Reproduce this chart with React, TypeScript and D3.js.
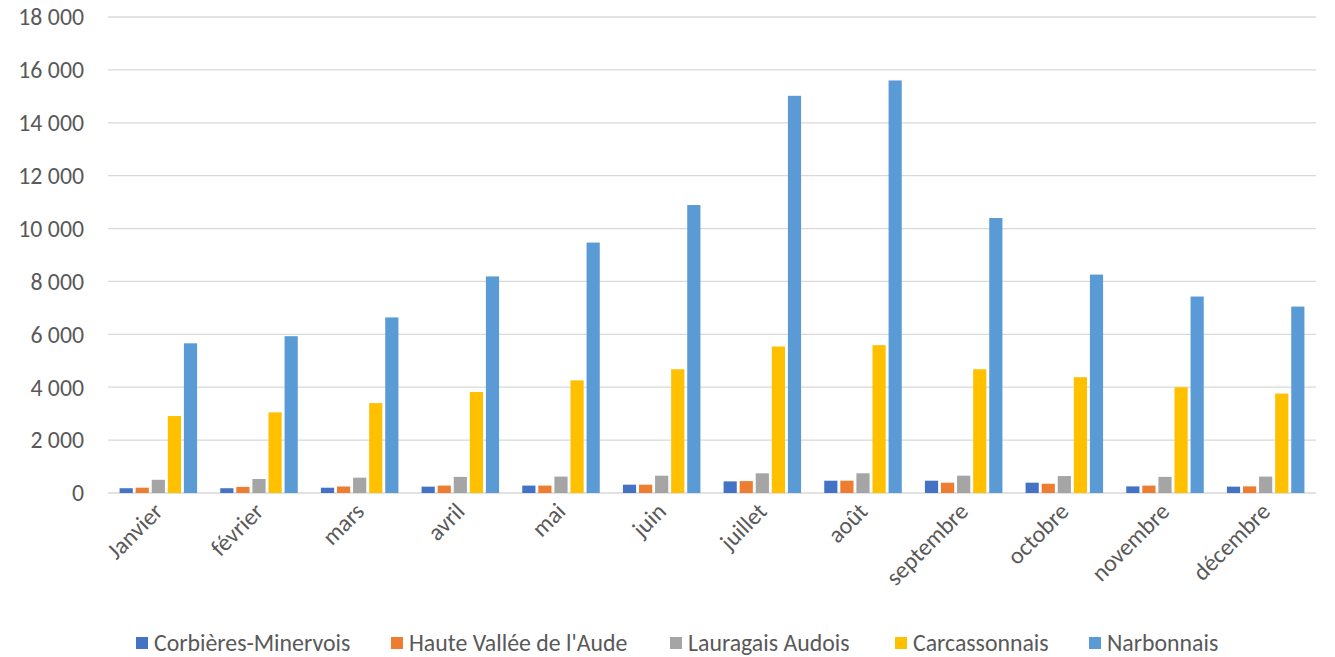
import React from "react";
import * as d3 from "d3";

const months = ["Janvier", "février", "mars", "avril", "mai", "juin", "juillet", "août", "septembre", "octobre", "novembre", "décembre"];
const seriesNames = ["Corbières-Minervois", "Haute Vallée de l'Aude", "Lauragais Audois", "Carcassonnais", "Narbonnais"];
const colors = ["#4472C4", "#ED7D31", "#A5A5A5", "#FFC000", "#5B9BD5"];

const corbieres = [180, 180, 200, 240, 280, 315, 440, 465, 465, 390, 250, 240];
const hauteVallee = [200, 230, 246, 280, 280, 315, 450, 465, 390, 350, 280, 250];
const lauragais = [500, 530, 580, 610, 620, 655, 745, 745, 655, 640, 610, 620];
const carcassonnais = [2910, 3050, 3400, 3820, 4260, 4680, 5540, 5590, 4680, 4380, 4000, 3760];
const narbonnais = [5660, 5930, 6640, 8190, 9470, 10890, 15020, 15600, 10400, 8260, 7430, 7050];

const seriesValues = [corbieres, hauteVallee, lauragais, carcassonnais, narbonnais];
const yTicks = [0, 2000, 4000, 6000, 8000, 10000, 12000, 14000, 16000, 18000];
const legendX = [136, 391, 670, 895, 1089];

const fmt = (v: number) => d3.format(",")(v).replace(/,/g, " ");

export default function App() {
  const W = 1335, H = 657;
  const left = 108, right = 1316, top = 17, bottom = 493;
  const x = d3.scaleBand<string>().domain(months).range([left, right]).paddingInner(0.23).paddingOuter(0.115);
  const inner = d3.scaleBand<number>().domain(d3.range(5)).range([0, x.bandwidth()]).paddingInner(0.18);
  const y = d3.scaleLinear().domain([0, 18000]).range([bottom, top]);
  const font = "Carlito, Calibri, 'Open Sans', sans-serif";
  const fs = 23.8;
  return (
    <svg width={W} height={H} style={{ position: "absolute", left: 0, top: 0, background: "#fff" }} fontFamily={font}>
      {yTicks.map((t) => (
        <g key={t}>
          <line x1={left} x2={right} y1={y(t)} y2={y(t)} stroke="#d9d9d9" strokeWidth={1.3} />
          <text x={84} y={y(t)} dy="0.35em" textAnchor="end" fontSize={fs} fill="#595959">{fmt(t)}</text>
        </g>
      ))}
      {months.map((m, i) => (
        <g key={m}>
          {seriesValues.map((vals, s) => (
            <rect key={s} x={(x(m) as number) + (inner(s) as number)} width={inner.bandwidth()} y={y(vals[i])} height={bottom - y(vals[i])} fill={colors[s]} />
          ))}
          <text transform={`translate(${(x(m) as number) + x.bandwidth() / 2},${bottom + 14}) rotate(-45)`} textAnchor="end" dy="0.35em" fontSize={fs} fill="#595959">{m}</text>
        </g>
      ))}
      {seriesNames.map((n, s) => (
        <g key={n}>
          <rect x={legendX[s]} y={637} width={12} height={12} fill={colors[s]} />
          <text x={legendX[s] + 18} y={643} dy="0.35em" fontSize={fs} fill="#595959">{n}</text>
        </g>
      ))}
    </svg>
  );
}
